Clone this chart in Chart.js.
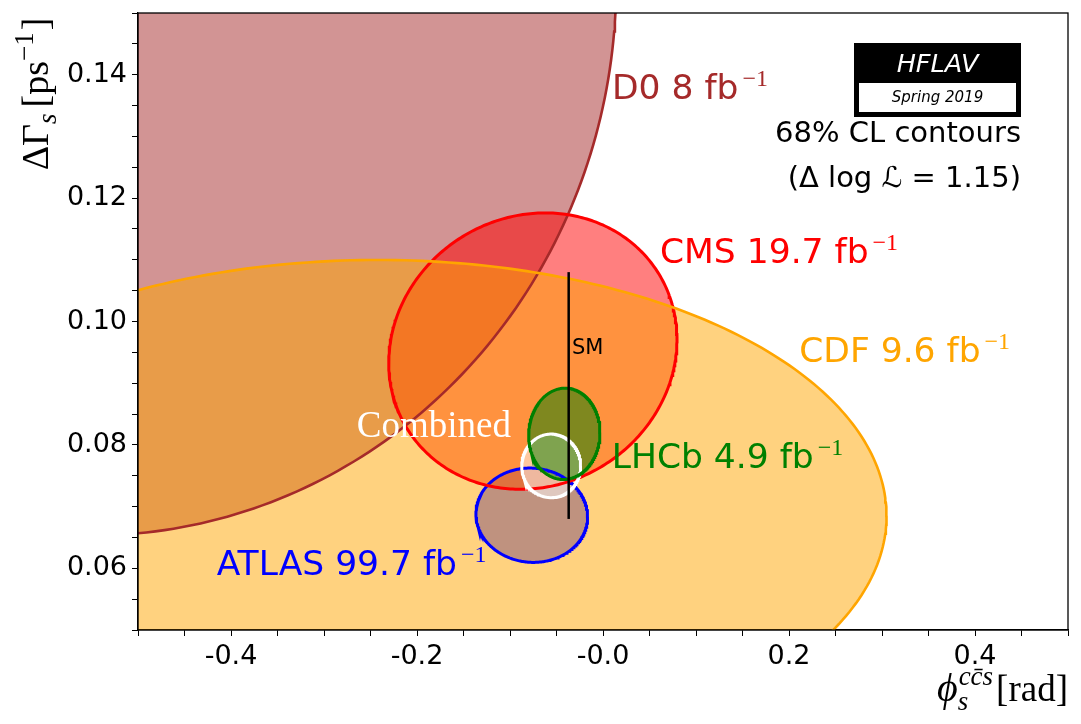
<!DOCTYPE html>
<html>
<head>
<meta charset="utf-8">
<script src="https://cdn.jsdelivr.net/npm/chart.js@4.4.1/dist/chart.umd.min.js"></script>
<style>
  html, body { margin: 0; padding: 0; background: #fff; }
  canvas { display: block; }
</style>
</head>
<body>
<canvas id="contourChart" width="1081" height="724"></canvas>
<script>
// Measurements: phi_s [rad], DeltaGamma_s [ps^-1], 1 sigma errors, correlation
var experiments  = ['ATLAS', 'D0', 'CMS', 'CDF', 'Combined', 'LHCb'];
var luminosities = ['99.7', '8', '19.7', '9.6', '', '4.9'];
var phiValues    = [-0.0766, -0.550, -0.0754, -0.242, -0.0557, -0.0416];
var phiErrors    = [0.0396, 0.372, 0.1022, 0.3606, 0.0209, 0.0253];
var dGammaValues = [0.0686, 0.1548, 0.0952, 0.0685, 0.0766, 0.0818];
var dGammaErrors = [0.00504, 0.0590, 0.01477, 0.02735, 0.0034, 0.00488];
var correlations = [-0.03, 0.0, 0.085, 0.0, 0.0, 0.03];
var deltaLogL = 1.15;

// Standard Model prediction
var smPhi = -0.0369;
var smDGamma = [0.068, 0.108];

// Tick labels
var xTickValues = [-0.4, -0.2, 0.0, 0.2, 0.4];
var xTickLabels = ['-0.4', '-0.2', '-0.0', '0.2', '0.4'];
var yTickValues = [0.06, 0.08, 0.10, 0.12, 0.14];
var yTickLabels = ['0.06', '0.08', '0.10', '0.12', '0.14'];

// Styles
var lineColors = ['rgb(0,0,255)', 'rgb(165,42,42)', 'rgb(255,0,0)', 'rgb(255,165,0)', 'rgb(255,255,255)', 'rgb(0,128,0)'];
var fillColors = ['rgba(0,0,255,0.5)', 'rgba(165,42,42,0.5)', 'rgba(255,0,0,0.5)', 'rgba(255,165,0,0.5)', 'rgba(255,255,255,0.5)', 'rgba(0,128,0,0.5)'];
var lineWidths = [3, 2.6, 3, 2.6, 3, 3];
// label anchors in data coordinates
var labelAnchors = {
    ATLAS: [-0.4154, 0.0589],
    D0: [0.0097, 0.1360],
    CMS: [0.0613, 0.1095],
    CDF: [0.211, 0.0934],
    Combined: [-0.2648, 0.0813],
    LHCb: [0.0094, 0.0763]
};

var SANS = '"DejaVu Sans", sans-serif';
var SERIF = '"Liberation Serif", "DejaVu Serif", serif';

// 68% CL contour of a 2D gaussian (delta log L = 1.15)
function contourPoints(i) {
    var k = Math.sqrt(2 * deltaLogL);
    var rho = correlations[i];
    var pts = [];
    for (var j = 0; j <= 360; j++) {
        var t = j * Math.PI / 180;
        pts.push({
            x: phiValues[i] + k * phiErrors[i] * Math.cos(t),
            y: dGammaValues[i] + k * dGammaErrors[i] * (rho * Math.cos(t) + Math.sqrt(1 - rho * rho) * Math.sin(t))
        });
    }
    return pts;
}

function tickText(values, labels, v) {
    for (var i = 0; i < values.length; i++) {
        if (Math.abs(values[i] - v) < 1e-6) return labels[i];
    }
    return '';
}

var datasets = [{
    label: 'SM',
    data: [{x: smPhi, y: smDGamma[0]}, {x: smPhi, y: smDGamma[1]}],
    showLine: true,
    borderColor: '#000',
    borderWidth: 2.5,
    pointRadius: 0,
    fill: false,
    order: 0
}];

for (var i = 0; i < experiments.length; i++) {
    datasets.push({
        label: experiments[i],
        data: contourPoints(i),
        showLine: true,
        borderColor: lineColors[i],
        backgroundColor: fillColors[i],
        borderWidth: lineWidths[i],
        pointRadius: 0,
        tension: 0,
        fill: 'shape',
        order: experiments.length - i
    });
}

// draw a run of text pieces (with sub/superscripts)
function drawRun(ctx, parts, x, y, align) {
    function fontOf(p) { return (p.style || '') + ' ' + p.size + 'px ' + (p.family || SERIF); }
    function widthOf(p) {
        if (p.stack) return Math.max.apply(null, p.stack.map(widthOf)) + (p.gap || 0);
        ctx.font = fontOf(p);
        return ctx.measureText(p.text).width + (p.gap || 0);
    }
    var total = 0;
    parts.forEach(function (p) { total += widthOf(p); });
    var cx = align === 'right' ? x - total : (align === 'center' ? x - total / 2 : x);
    ctx.textAlign = 'left';
    ctx.textBaseline = 'alphabetic';
    parts.forEach(function (p) {
        var list = p.stack ? p.stack : [p];
        list.forEach(function (q) {
            ctx.font = fontOf(q);
            ctx.fillText(q.text, cx + (q.shift || 0), y + (q.dy || 0));
        });
        cx += widthOf(p);
    });
}

function drawLabel(ctx, text, x, y, color, sup) {
    ctx.fillStyle = color;
    ctx.textAlign = 'left';
    ctx.textBaseline = 'alphabetic';
    ctx.font = '34.5px ' + SANS;
    ctx.fillText(text, x, y);
    if (sup) {
        var w = ctx.measureText(text).width;
        ctx.font = '24px ' + SERIF;
        ctx.fillText('\u22121', x + w + 4, y - 13);
    }
}

var annotations = {
    id: 'annotations',
    afterDatasetsDraw: function (chart) {
        var ctx = chart.ctx;
        var a = chart.chartArea;
        var sx = chart.scales.x, sy = chart.scales.y;
        ctx.save();
        // frame
        ctx.strokeStyle = '#000';
        ctx.lineWidth = 1.3;
        ctx.strokeRect(a.left, a.top, a.right - a.left, a.bottom - a.top);

        // experiment labels
        for (var i = 0; i < experiments.length; i++) {
            var name = experiments[i];
            var p = labelAnchors[name];
            var px = sx.getPixelForValue(p[0]), py = sy.getPixelForValue(p[1]);
            if (name === 'Combined') {
                ctx.fillStyle = '#fff';
                ctx.font = '37px ' + SERIF;
                ctx.textAlign = 'left';
                ctx.fillText('Combined', px, py);
            } else {
                drawLabel(ctx, name + ' ' + luminosities[i] + ' fb', px, py, lineColors[i], true);
            }
        }
        // SM label
        ctx.fillStyle = '#000';
        ctx.font = '21px ' + SANS;
        ctx.textAlign = 'left';
        ctx.fillText('SM', sx.getPixelForValue(-0.0333), sy.getPixelForValue(0.0947));

        // HFLAV logo
        ctx.fillStyle = '#000';
        ctx.fillRect(854, 43, 167, 74);
        ctx.fillStyle = '#fff';
        ctx.fillRect(859, 83, 157, 29);
        ctx.textAlign = 'center';
        ctx.font = 'italic 25.5px ' + SANS;
        ctx.fillText('HFLAV', 937.5, 72);
        ctx.fillStyle = '#000';
        ctx.font = 'italic 15px ' + SANS;
        ctx.fillText('Spring 2019', 937.5, 102);

        ctx.textAlign = 'right';
        ctx.font = '29px ' + SANS;
        ctx.fillText('68% CL contours', 1021, 142);
        ctx.fillText('(\u0394 log \u2112 = 1.15)', 1021, 187);

        // x axis title
        ctx.fillStyle = '#000';
        drawRun(ctx, [
            {text: '\u03D5', size: 40, style: 'italic'},
            {stack: [
                {text: 's', size: 27, style: 'italic', dy: 9},
                {text: 'c\u0063\u0304s', size: 27, style: 'italic', dy: -16, shift: 1}
            ], gap: 4},
            {text: '[rad]', size: 37}
        ], 1068, 701, 'right');

        // y axis title (rotated)
        ctx.translate(48, 94);
        ctx.rotate(-Math.PI / 2);
        drawRun(ctx, [
            {text: '\u0394\u0393', size: 38},
            {text: 's', size: 27, style: 'italic', dy: 8, gap: 6},
            {text: '[ps', size: 38},
            {text: '\u22121', size: 27, dy: -15, gap: 2},
            {text: ']', size: 38}
        ], 0, 0, 'center');
        ctx.restore();
    }
};

var chart = new Chart(document.getElementById('contourChart').getContext('2d'), {
    type: 'scatter',
    data: { datasets: datasets },
    options: {
        responsive: false,
        animation: false,
        devicePixelRatio: 1,
        layout: { padding: { top: 13, right: 13, left: 0, bottom: 0 } },
        plugins: {
            legend: { display: false },
            tooltip: { enabled: false },
            filler: { drawTime: 'beforeDatasetsDraw' }
        },
        scales: {
            x: {
                type: 'linear',
                min: -0.5,
                max: 0.5,
                afterFit: function (scale) {
                    scale.height = 94;
                    scale.paddingLeft = 0;
                    scale.paddingRight = 0;
                },
                ticks: {
                    stepSize: 0.05,
                    autoSkip: false,
                    maxRotation: 0,
                    padding: 5,
                    color: '#000',
                    font: { family: 'DejaVu Sans', size: 27 },
                    callback: function (v) { return tickText(xTickValues, xTickLabels, v); }
                },
                grid: { drawOnChartArea: false, tickLength: 6, color: '#000', tickWidth: 1 },
                border: { color: '#000', width: 1.3 }
            },
            y: {
                type: 'linear',
                min: 0.05,
                max: 0.15,
                afterFit: function (scale) {
                    scale.width = 138;
                    scale.paddingTop = 0;
                    scale.paddingBottom = 0;
                },
                ticks: {
                    stepSize: 0.005,
                    autoSkip: false,
                    padding: 5,
                    color: '#000',
                    font: { family: 'DejaVu Sans', size: 27 },
                    callback: function (v) { return tickText(yTickValues, yTickLabels, v); }
                },
                grid: { drawOnChartArea: false, tickLength: 6, color: '#000', tickWidth: 1 },
                border: { color: '#000', width: 1.3 }
            }
        }
    },
    plugins: [annotations]
});
</script>
</body>
</html>
